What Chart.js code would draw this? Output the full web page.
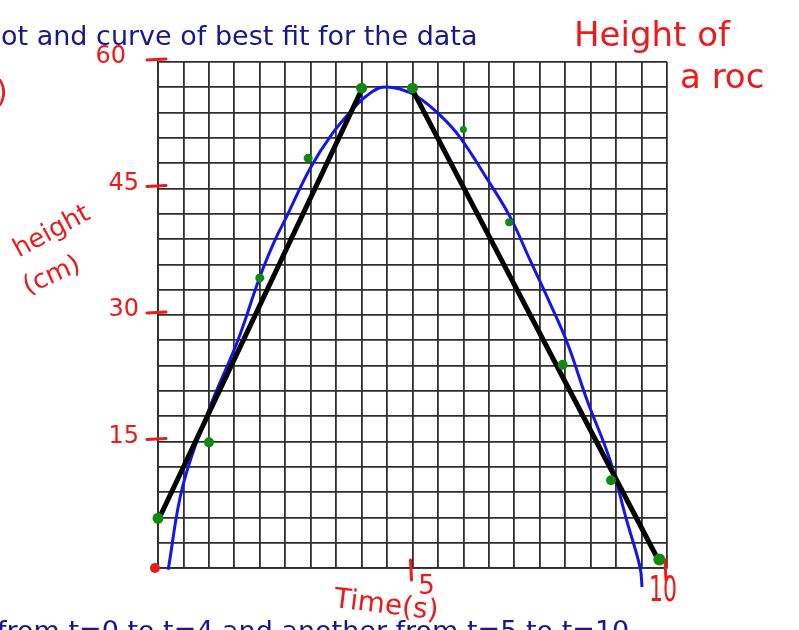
<!DOCTYPE html>
<html>
<head>
<meta charset="utf-8">
<script src="https://cdn.jsdelivr.net/npm/chart.js@4.4.1/dist/chart.umd.min.js"></script>
<style>
  html, body { margin: 0; padding: 0; background: #fff; overflow: hidden; }
  #wrap { position: relative; width: 799px; height: 630px; }
</style>
</head>
<body>
<div id="wrap"><canvas id="rocket" width="799" height="630"></canvas></div>
<script>
// measured heights of the rocket (cm) at each time (s)
const times   = [0, 1, 2, 2.95, 4, 5, 6, 6.9, 7.95, 8.9, 9.85];
const heights = [5.9, 14.9, 34.4, 48.6, 56.9, 56.9, 52.0, 41.0, 24.1, 10.4, 1.0];

// straight segments drawn through the data
const rise = [[0.04, 6.1], [4.0, 56.7]];
const fall = [[5.0, 56.7], [9.83, 0.95]];

// hand-drawn curve of best fit
const curveT = [0.2, 0.49, 1.02, 1.57, 2.0, 2.3, 2.53, 2.99, 3.41, 3.84, 4.1, 4.4, 4.75, 5.09, 5.54, 5.93, 6.48, 6.92, 7.31, 7.7, 8.04, 8.43, 8.88, 9.21, 9.47, 9.51];
const curveH = [-0.2, 9.8, 19.1, 27.0, 34.5, 38.9, 41.7, 47.4, 51.4, 54.5, 56.0, 57.0, 56.8, 55.9, 53.7, 51.1, 46.0, 41.6, 36.5, 31.4, 26.7, 19.9, 12.8, 5.6, 0.1, -2.25];

// origin marker
const origin = [-0.06, 0];

const yTickLabels = [15, 30, 45, 60];
const xTickLabels = [5, 10];

const RED = '#ee1a1a';
const NAVY = '#17178e';

const toPoints = (xs, ys) => xs.map((x, i) => ({ x: x, y: ys[i] }));

// handwritten notes, title lines and tick labels
const notes = {
  id: 'notes',
  afterDraw(chart) {
    const ctx = chart.ctx;
    const xs = chart.scales.x;
    const ys = chart.scales.y;
    ctx.save();

    ctx.fillStyle = NAVY;
    ctx.textBaseline = 'alphabetic';
    ctx.textAlign = 'left';
    ctx.font = '27px "DejaVu Sans"';
    ctx.fillText('ot and curve of best fit for the data', 1, 45, 506);
    ctx.fillText('from t=0 to t=4 and another from t=5 to t=10', -3, 640, 634);

    ctx.fillStyle = RED;
    ctx.strokeStyle = RED;
    ctx.lineWidth = 3;
    ctx.lineCap = 'round';

    // y axis labels with their dashes
    ctx.font = '24px "DejaVu Sans"';
    ctx.textAlign = 'right';
    ctx.textBaseline = 'middle';
    yTickLabels.forEach(v => {
      const py = ys.getPixelForValue(v);
      const right = v === 60 ? 126 : 139;
      ctx.fillText(String(v), right, py - 5, 34);
      ctx.beginPath();
      ctx.moveTo(147, py - 2);
      ctx.lineTo(166, py - 3);
      ctx.stroke();
    });

    // x axis labels with their ticks
    xTickLabels.forEach(v => {
      const px = xs.getPixelForValue(v);
      ctx.beginPath();
      ctx.moveTo(px - 2, ys.bottom - 8);
      ctx.lineTo(px - 1, ys.bottom + 12);
      ctx.stroke();
    });
    ctx.textAlign = 'center';
    ctx.font = '26px "DejaVu Sans"';
    ctx.fillText(String(xTickLabels[0]), xs.getPixelForValue(xTickLabels[0]) + 14, 587, 18);
    ctx.font = '36px "DejaVu Sans"';
    ctx.fillText(String(xTickLabels[1]), xs.getPixelForValue(xTickLabels[1]) - 4, 592, 28);

    // axis titles
    ctx.save();
    ctx.translate(386, 606);
    ctx.rotate(0.12);
    ctx.font = '28px "DejaVu Sans"';
    ctx.fillText('Time(s)', 0, 0, 112);
    ctx.restore();

    ctx.save();
    ctx.translate(52, 232);
    ctx.rotate(-0.5);
    ctx.font = '26px "DejaVu Sans"';
    ctx.fillText('height', 0, 0, 84);
    ctx.restore();

    ctx.save();
    ctx.translate(52, 276);
    ctx.rotate(-0.42);
    ctx.font = '26px "DejaVu Sans"';
    ctx.fillText('(cm)', 0, 0, 66);
    ctx.restore();

    // chart title notes on the right
    ctx.textAlign = 'left';
    ctx.textBaseline = 'alphabetic';
    ctx.font = '34px "DejaVu Sans"';
    ctx.fillText('Height of', 574, 46, 168);
    ctx.fillText('a roc', 680, 88, 128);
    ctx.font = '30px "DejaVu Sans"';
    ctx.fillText(')', -4, 102);

    ctx.restore();
  }
};

new Chart(document.getElementById('rocket'), {
  type: 'scatter',
  data: {
    datasets: [
      {
        label: 'data',
        data: toPoints(times, heights),
        backgroundColor: '#0f8a0f',
        borderColor: '#0f8a0f',
        pointRadius: [5.5, 5, 4.5, 4.5, 5.5, 5.5, 3.5, 4, 5, 5, 6],
        pointBorderWidth: 0,
        clip: false,
        order: 0
      },
      {
        label: 'origin',
        data: [{ x: origin[0], y: origin[1] }],
        backgroundColor: RED,
        pointRadius: 5,
        pointBorderWidth: 0,
        clip: false,
        order: 0
      },
      {
        label: 'rise',
        data: rise.map(p => ({ x: p[0], y: p[1] })),
        showLine: true,
        borderColor: '#000',
        borderWidth: 5,
        borderCapStyle: 'round',
        pointRadius: 0,
        order: 1
      },
      {
        label: 'fall',
        data: fall.map(p => ({ x: p[0], y: p[1] })),
        showLine: true,
        borderColor: '#000',
        borderWidth: 5,
        borderCapStyle: 'round',
        pointRadius: 0,
        order: 1
      },
      {
        label: 'fit',
        data: toPoints(curveT, curveH),
        showLine: true,
        borderColor: '#1414ee',
        borderWidth: 3,
        tension: 0.4,
        pointRadius: 0,
        clip: false,
        order: 2
      }
    ]
  },
  options: {
    responsive: false,
    devicePixelRatio: 1,
    animation: false,
    layout: { padding: { left: 158, top: 62, right: 132, bottom: 62 } },
    plugins: { legend: { display: false }, tooltip: { enabled: false } },
    scales: {
      x: {
        type: 'linear', min: 0, max: 10,
        ticks: { display: false, stepSize: 0.5 },
        grid: { color: '#2e2e2e', lineWidth: 1.8, drawTicks: false },
        border: { display: true, color: '#2e2e2e', width: 1.8 }
      },
      y: {
        type: 'linear', min: 0, max: 60,
        ticks: { display: false, stepSize: 3 },
        grid: { color: '#2e2e2e', lineWidth: 1.8, drawTicks: false },
        border: { display: true, color: '#2e2e2e', width: 1.8 }
      }
    }
  },
  plugins: [notes]
});
</script>
</body>
</html>
